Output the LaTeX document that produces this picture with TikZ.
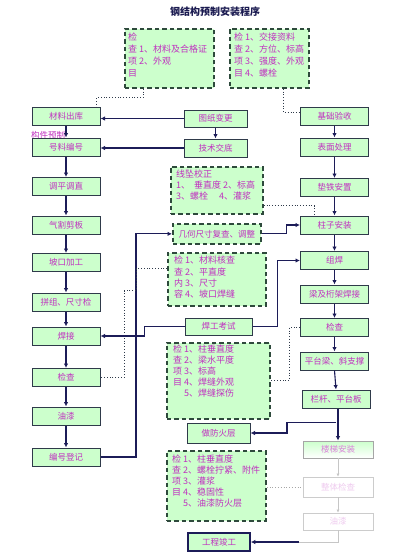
\documentclass[tikz,border=0pt]{standalone}
\usepackage{fontspec}
\setmainfont{Noto Sans CJK SC}
\usetikzlibrary{arrows.meta,calc}
\definecolor{boxgreen}{HTML}{CCFFCC}
\definecolor{bordercol}{HTML}{2F3A4A}
\definecolor{arrcol}{HTML}{1C1C58}
\definecolor{txt}{HTML}{C030C0}
\definecolor{dashcol}{HTML}{2E4A3C}
\definecolor{ttl}{HTML}{1A1A50}
\tikzset{
  sbox/.style={draw=bordercol, line width=1pt, fill=boxgreen, minimum width=68pt, minimum height=18pt,
    text=txt, font=\fontsize{8.5}{10}\selectfont, inner sep=1pt},
  dframe/.style={draw=dashcol, line width=1.7pt, dash pattern=on 4.5pt off 3pt, fill=boxgreen, inner sep=0pt, anchor=north west},
  dtext/.style={text=txt, align=left, inner sep=0pt, anchor=north west, execute at begin node=\color{txt}},
  arr/.style={draw=arrcol, line width=1.1pt, -{Latex[length=4.5pt,width=4.5pt]}},
  dotline/.style={draw=bordercol, line width=0.8pt, dotted},
  fadebox/.style={draw=gray!40, line width=0.8pt, fill=white, minimum width=70pt, text=txt!25,
    font=\fontsize{8.5}{10}\selectfont, inner sep=1pt},
  fadeline/.style={draw=gray!45, line width=0.7pt},
  fadearr/.style={draw=gray!45, line width=0.7pt, -{Latex[length=3pt,width=3pt]}},
}
\begin{document}
\begin{tikzpicture}[x=1pt,y=-1pt]
\useasboundingbox[fill=white] (0,0) rectangle (408,560);
% title
\node[text=ttl, font=\fontsize{10}{12}\selectfont\bfseries] (tt) at (215,12) {钢结构预制安装程序};
% top dashed boxes
\node[dframe, minimum width=89pt, minimum height=59pt] (qa) at (124,28) {};
\node[dtext, font=\fontsize{9}{12}\selectfont] (qat) at (128,33) {检\\查 1、材料及合格证\\项 2、外观\\目};
\node[dframe, minimum width=79pt, minimum height=59pt] (qb) at (229,28) {};
\node[dtext, font=\fontsize{9}{12}\selectfont] (qbt) at (234,33) {检 1、交接资料\\查 2、方位、标高\\项 3、强度、外观\\目 4、螺栓};
% middle dashed boxes
\node[dframe, minimum width=92pt, minimum height=47pt] (xz) at (170,166) {};
\node[dtext, font=\fontsize{9}{11}\selectfont] (xzt) at (176,170) {线坠校正\\1、\ \ 垂直度 2、标高\\3、螺栓\quad\ 4、灌浆};
\node[dframe, minimum width=88pt, minimum height=20pt] (jh) at (172,223) {};
\node[text=txt, font=\fontsize{8.5}{10}\selectfont, inner sep=0pt] (jht) at (jh.center) {几何尺寸复查、调整};
\node[dframe, minimum width=98pt, minimum height=53pt] (kc) at (167,252) {};
\node[dtext, font=\fontsize{9}{11.3}\selectfont] (kct) at (174,256) {检 1、材料核查\\查 2、平直度\\内 3、尺寸\\容 4、坡口焊缝};
\node[dframe, minimum width=103pt, minimum height=76pt] (k3) at (166,342) {};
\node[dtext, font=\fontsize{9}{11}\selectfont] (k3t) at (173,345) {检 1、柱垂直度\\查 2、梁水平度\\项 3、标高\\目 4、焊缝外观\\\phantom{目} 5、焊缝探伤};
\node[dframe, minimum width=99pt, minimum height=70pt] (bb) at (166,450) {};
\node[dtext, font=\fontsize{9}{11}\selectfont] (bbt) at (172,455) {检 1、柱垂直度\\查 2、螺栓拧紧、附件\\项 3、灌浆\\目 4、稳固性\\\phantom{目} 5、油漆防火层};
% label partially covered
\node[text=txt, font=\fontsize{8.5}{10}\selectfont, inner sep=0pt] (gj) at (48,135) {构件预制};
% left column
\node[sbox] (l1) at (66,116.5) {材料出库};
\node[sbox] (l2) at (66,147) {号料编号};
\node[sbox] (l3) at (66,186.5) {调平调直};
\node[sbox] (l4) at (66,225) {气割剪板};
\node[sbox] (l5) at (66,262.5) {坡口加工};
\node[sbox] (l6) at (66,302) {拼组、尺寸检};
\node[sbox] (l7) at (66,336) {焊接};
\node[sbox] (l8) at (66,377.5) {检查};
\node[sbox] (l9) at (66,416) {油漆};
\node[sbox] (l10) at (66,457) {编号登记};
% middle solid boxes
\node[sbox, minimum width=63pt, minimum height=17pt] (tz) at (215.5,118.5) {图纸变更};
\node[sbox, minimum width=63pt] (jd) at (215.5,148) {技术交底};
\node[sbox, minimum width=67pt, minimum height=17pt] (hg) at (218.5,326.5) {焊工考试};
\node[sbox, minimum width=63pt, minimum height=20pt] (fh) at (218.5,433) {做防火层};
\node[sbox, minimum width=62pt, draw=arrcol, line width=1.6pt] (jg) at (219,542) {工程竣工};
% right column
\node[sbox] (r1) at (334.5,116) {基础验收};
\node[sbox] (r2) at (334.5,147) {表面处理};
\node[sbox] (r3) at (334.5,187.5) {垫铁安置};
\node[sbox] (r4) at (334.5,225) {柱子安装};
\node[sbox] (r5) at (334.5,260.5) {组焊};
\node[sbox] (r6) at (334.5,294) {梁及桁架焊接};
\node[sbox] (r7) at (334.5,327.5) {检查};
\node[sbox] (r8) at (334.5,361) {平台梁、斜支撑};
\node[sbox] (r9) at (336,399) {栏杆、平台板};
\node[fadebox, minimum height=17pt, top color=boxgreen, bottom color=white, draw=gray!70, text=txt!60] (r10) at (338,449.5) {楼梯安装};
\node[fadebox, minimum height=20pt] (r11) at (338,487) {整体检查};
\node[fadebox, minimum height=17pt] (r12) at (338,521.5) {油漆};
% left chain
\foreach \a/\b in {l1/l2,l2/l3,l3/l4,l4/l5,l5/l6,l6/l7,l7/l8,l8/l9,l9/l10}
  \draw[arr] (\a.south) -- (\b.north);
% right chain
\foreach \a/\b in {r1/r2,r2/r3,r3/r4,r4/r5,r5/r6,r6/r7,r7/r8,r8/r9}
  \draw[arr] (\a.south) -- (\b.north);
\draw[arr] (r9.south -| r10.north) -- (r10.north);
\draw[fadearr] (r10.south) -- (r11.north);
\draw[fadearr] (r11.south) -- (r12.north);
% middle connectors
\draw[arr] (tz.west) -- (tz.west -| l1.east);
\draw[arr] (tz.south) -- (jd.north);
\draw[arr] (jd.west) -- (jd.west -| l2.east);
% dotted from top boxes
\draw[dotline] ([xshift=19pt]qa.south west) -- ++(0,9) -| ([xshift=-4pt]l1.north east);
\draw[dotline] ([xshift=54pt]qb.south west) |- ([yshift=4pt]r1.west);
% 线坠校正 to 柱子安装
\draw[dotline] ([yshift=-15.5pt]xz.east) -| ([xshift=-20pt]r4.north);
% 几何尺寸 to 柱子安装
\draw[arr] (jh.east) -- ++(25,0) |- (r4.west);
% 编号登记 loop to 几何尺寸
\coordinate (vx) at (136,0);
\draw[arr] (l10.east) -| (vx |- jh.west) -- (jh.west);
% 材料核查 dotted to 检查
\draw[dotline] ([yshift=10.5pt]kc.west) -- ++(-31,0) -- ++(0,22) -- ++(-12,0) |- (l8.east);
% 焊工考试
\draw[arr] (hg.west) -- ++(-40,0) |- (l7.east);
\draw[arr] (hg.east) -- ++(25,0) |- (r5.west);
% right 检查 dotted to box
\draw[dotline] (r7.west) -- ++(-11,0) |- (k3.east);
% branch to 做防火层
\coordinate (br) at ($(r9.south)+(0,14)$);
\draw[arr] (br) -- ++(-49,0) |- (fh.east);
% bottom box dotted to 整体检查
\draw[dotline, draw=gray!70] (bb.east |- r11.west) -- (r11.west);
% to 工程竣工
\draw[fadeline] (r12.south) |- ([xshift=48pt]jg.east);
\draw[arr] ([xshift=48pt]jg.east) -- (jg.east);
\end{tikzpicture}
\end{document}
